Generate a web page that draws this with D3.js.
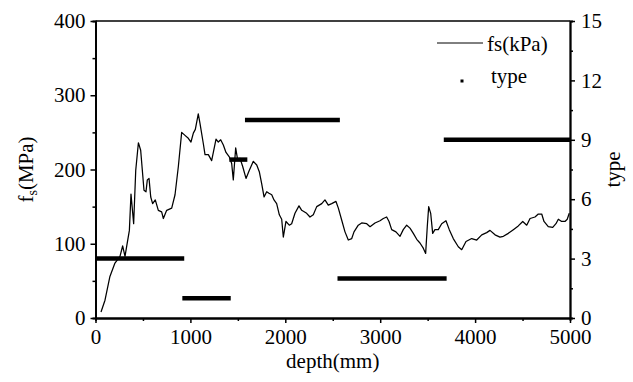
<!DOCTYPE html>
<html>
<head>
<meta charset="utf-8">
<script src="https://cdn.jsdelivr.net/npm/d3@7"></script>
<style>
  body { margin: 0; background: #fff; }
  .axis path, .axis line { stroke: #000; }
</style>
</head>
<body>
<script>
var width = 633,
    height = 382;

// fs curve (depth mm, fs)
var depth = [58, 100, 152, 205, 258, 286, 311, 328, 357, 374, 402, 424, 452, 476, 511, 532, 546, 564, 582, 602,
  630, 662, 697, 715, 750, 803, 838, 873, 908, 943, 978, 1006, 1031, 1052, 1083, 1101, 1136, 1154, 1189, 1224,
  1270, 1294, 1319, 1347, 1375, 1410, 1435, 1452, 1477, 1498, 1523, 1551, 1586, 1621, 1663, 1699, 1726, 1751, 1776, 1804,
  1828, 1857, 1881, 1909, 1937, 1962, 1979, 2007, 2042, 2067, 2102, 2144, 2173, 2225, 2260, 2295, 2331, 2384, 2418, 2453,
  2489, 2534, 2559, 2594, 2629, 2664, 2700, 2724, 2769, 2805, 2858, 2893, 2945, 2998, 3033, 3068, 3093, 3121, 3166, 3209,
  3243, 3279, 3314, 3349, 3385, 3419, 3454, 3479, 3496, 3511, 3532, 3553, 3577, 3612, 3648, 3693, 3728, 3770, 3823, 3859,
  3904, 3964, 4017, 4070, 4122, 4157, 4210, 4262, 4298, 4350, 4403, 4455, 4502, 4544, 4579, 4631, 4666, 4702, 4726, 4771,
  4818, 4852, 4877, 4912, 4947, 4971, 4992];
var fs = [8, 24, 56, 74, 83, 97, 83, 96, 118, 167, 127, 199, 236, 226, 172, 170, 186, 188, 163, 154,
  159, 145, 143, 134, 145, 148, 166, 204, 250, 246, 242, 237, 249, 254, 275, 262, 235, 220, 220, 212,
  241, 237, 240, 233, 223, 217, 208, 186, 229, 213, 215, 204, 188, 199, 211, 206, 197, 181, 163, 170,
  168, 166, 159, 154, 139, 133, 109, 130, 125, 127, 141, 151, 145, 141, 136, 139, 150, 154, 159, 152,
  154, 157, 148, 132, 116, 105, 107, 116, 125, 128, 127, 123, 128, 131, 134, 136, 130, 119, 116, 110,
  119, 125, 121, 114, 106, 101, 94, 87, 123, 150, 141, 114, 119, 119, 127, 131, 119, 107, 96, 92,
  103, 107, 105, 112, 115, 118, 112, 109, 110, 114, 119, 124, 130, 125, 134, 136, 140, 140, 130, 123,
  122, 127, 133, 130, 130, 133, 141];

// type segments: start depth, end depth, type value
var typeStart = [0, 915, 1410, 1575, 2550, 3670];
var typeEnd = [935, 1425, 1600, 2575, 3700, 5000];
var typeValue = [3, 1, 8, 10, 2, 9];

var xTicks = [0, 1000, 2000, 3000, 4000, 5000];
var xMinor = [500, 1500, 2500, 3500, 4500];
var yTicks = [0, 100, 200, 300, 400];
var yMinor = [50, 150, 250, 350];
var y2Ticks = [0, 3, 6, 9, 12, 15];
var y2Minor = [1.5, 4.5, 7.5, 10.5, 13.5];

var pLeft = 95.5, pRight = 570, pTop = 21, pBottom = 318;
var serif = "Liberation Serif";

var x = d3.scaleLinear().domain([0, 5000]).range([pLeft, pRight]);
var y = d3.scaleLinear().domain([0, 400]).range([pBottom, pTop]);
var y2 = d3.scaleLinear().domain([0, 15]).range([pBottom, pTop]);

var svg = d3.select("body").append("svg")
    .attr("width", width)
    .attr("height", height)
    .attr("font-family", serif);

// type bars
var segs = typeStart.map(function(s, i) { return {s: s, e: typeEnd[i], v: typeValue[i]}; });
svg.append("g").selectAll("line")
    .data(segs)
  .enter().append("line")
    .attr("x1", function(d) { return x(d.s); })
    .attr("x2", function(d) { return x(d.e); })
    .attr("y1", function(d) { return y2(d.v); })
    .attr("y2", function(d) { return y2(d.v); })
    .attr("stroke", "#000")
    .attr("stroke-width", 4.5);

// fs line
var pts = depth.map(function(d, i) { return [d, fs[i]]; });
svg.append("path")
    .datum(pts)
    .attr("fill", "none")
    .attr("stroke", "#000")
    .attr("stroke-width", 1.25)
    .attr("stroke-linejoin", "round")
    .attr("d", d3.line().x(function(d) { return x(d[0]); }).y(function(d) { return y(d[1]); }));

// top frame
svg.append("line")
    .attr("x1", pLeft).attr("x2", pRight)
    .attr("y1", pTop).attr("y2", pTop)
    .attr("stroke", "#000").attr("stroke-width", 1.5);

function styleAxis(g) {
  g.attr("class", "axis").attr("font-family", serif).attr("font-size", 21);
  g.select(".domain").attr("stroke-width", 1.8);
  g.selectAll(".tick line").attr("stroke-width", 1.5);
}

// bottom axis
svg.append("g")
    .attr("transform", "translate(0," + pBottom + ")")
    .call(d3.axisBottom(x).tickValues(xMinor).tickSize(3).tickFormat(""))
    .call(styleAxis);
svg.append("g")
    .attr("transform", "translate(0," + pBottom + ")")
    .call(d3.axisBottom(x).tickValues(xTicks).tickSize(5).tickSizeOuter(0).tickPadding(6).tickFormat(d3.format("d")))
    .call(styleAxis);

// left axis
svg.append("g")
    .attr("transform", "translate(" + pLeft + ",0)")
    .call(d3.axisLeft(y).tickValues(yMinor).tickSize(3).tickFormat(""))
    .call(styleAxis);
svg.append("g")
    .attr("transform", "translate(" + pLeft + ",0)")
    .call(d3.axisLeft(y).tickValues(yTicks).tickSize(5).tickSizeOuter(0).tickPadding(5))
    .call(styleAxis);

// right axis
svg.append("g")
    .attr("transform", "translate(" + pRight + ",0)")
    .call(d3.axisRight(y2).tickValues(y2Minor).tickSize(3).tickFormat(""))
    .call(styleAxis);
svg.append("g")
    .attr("transform", "translate(" + pRight + ",0)")
    .call(d3.axisRight(y2).tickValues(y2Ticks).tickSize(5).tickSizeOuter(0).tickPadding(6))
    .call(styleAxis);

// axis titles
svg.append("text")
    .attr("x", (pLeft + pRight) / 2)
    .attr("y", 368)
    .attr("text-anchor", "middle")
    .attr("font-size", 21)
    .text("depth(mm)");

var yt = svg.append("text")
    .attr("transform", "translate(33," + ((pTop + pBottom) / 2) + ") rotate(-90)")
    .attr("text-anchor", "middle")
    .attr("font-size", 21);
yt.append("tspan").text("f");
yt.append("tspan").attr("dy", 4).attr("font-size", 14).text("s");
yt.append("tspan").attr("dy", -4).text("(MPa)");

svg.append("text")
    .attr("transform", "translate(620," + ((pTop + pBottom) / 2) + ") rotate(-90)")
    .attr("text-anchor", "middle")
    .attr("font-size", 21)
    .text("type");

// legend
var legend = svg.append("g");
legend.append("line")
    .attr("x1", 437).attr("x2", 483)
    .attr("y1", 43).attr("y2", 43)
    .attr("stroke", "#000").attr("stroke-width", 1);
legend.append("text")
    .attr("x", 487).attr("y", 51)
    .attr("font-size", 21)
    .text("fs(kPa)");
legend.append("rect")
    .attr("x", 460.5).attr("y", 79.5)
    .attr("width", 3).attr("height", 3)
    .attr("fill", "#000");
legend.append("text")
    .attr("x", 491).attr("y", 83)
    .attr("font-size", 21)
    .text("type");
</script>
</body>
</html>
